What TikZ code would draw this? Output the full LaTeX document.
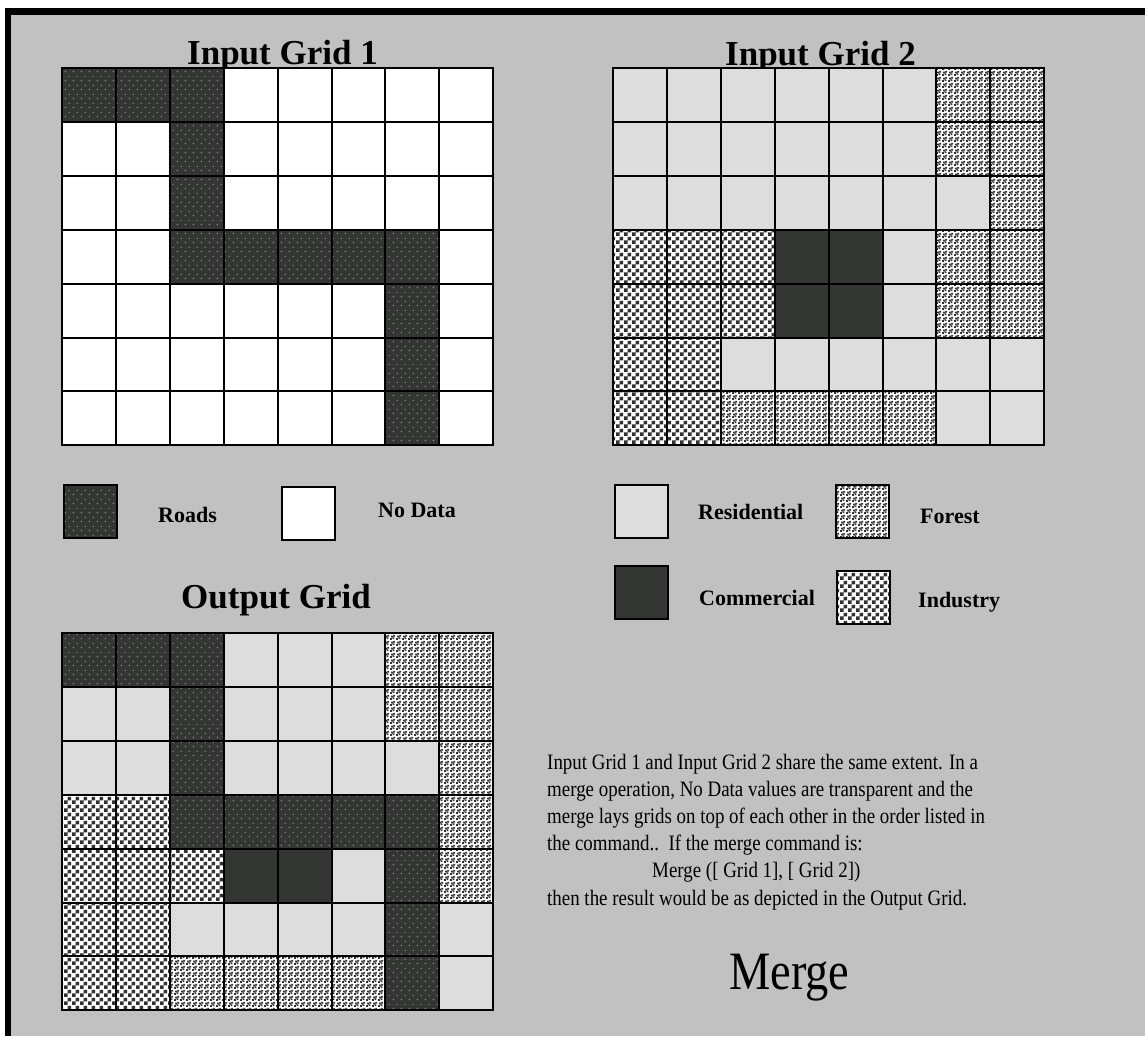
\documentclass[tikz,border=0pt]{standalone}
\usepackage{fontspec}
\setmainfont{Liberation Serif}
\newfontfamily\narrowserif[FakeStretch=0.86]{Liberation Serif}
\usetikzlibrary{patterns}

\definecolor{bggray}{RGB}{193,193,193}
\definecolor{resgray}{RGB}{221,221,221}
\definecolor{darkcell}{RGB}{52,54,52}
\definecolor{dotgray}{RGB}{150,150,150}
\definecolor{patdark}{RGB}{50,50,50}

\pgfdeclarepatternformonly{roaddots}{\pgfqpoint{0pt}{0pt}}{\pgfqpoint{8pt}{9pt}}{\pgfqpoint{8pt}{9pt}}{%
    \pgfpathrectangle{\pgfqpoint{1pt}{1pt}}{\pgfqpoint{1.2pt}{1.2pt}}%
    \pgfpathrectangle{\pgfqpoint{5pt}{5.5pt}}{\pgfqpoint{1.2pt}{1.2pt}}%
    \pgfusepath{fill}}
\pgfdeclarepatternformonly{forestdots}{\pgfqpoint{0pt}{0pt}}{\pgfqpoint{6pt}{6pt}}{\pgfqpoint{6pt}{6pt}}{%
    \pgfpathrectangle{\pgfqpoint{0pt}{0pt}}{\pgfqpoint{2.1pt}{2.1pt}}%
    \pgfpathrectangle{\pgfqpoint{3pt}{0.9pt}}{\pgfqpoint{2.1pt}{2.1pt}}%
    \pgfpathrectangle{\pgfqpoint{1.4pt}{3pt}}{\pgfqpoint{2.1pt}{2.1pt}}%
    \pgfpathrectangle{\pgfqpoint{3.9pt}{3.9pt}}{\pgfqpoint{2.1pt}{2.1pt}}%
    \pgfusepath{fill}}
\pgfdeclarepatternformonly{checks}{\pgfqpoint{0pt}{0pt}}{\pgfqpoint{8pt}{8pt}}{\pgfqpoint{8pt}{8pt}}{%
    \pgfpathrectangle{\pgfqpoint{0pt}{0pt}}{\pgfqpoint{4pt}{4pt}}%
    \pgfpathrectangle{\pgfqpoint{4pt}{4pt}}{\pgfqpoint{4pt}{4pt}}%
    \pgfusepath{fill}}

\begin{document}
\begin{tikzpicture}[x=1pt,y=-1pt,
    road/.style={fill=darkcell,postaction={pattern=roaddots,pattern color=dotgray}},
    nodata/.style={fill=white},
    resi/.style={fill=resgray},
    comm/.style={fill=darkcell},
    forest/.style={fill=white,postaction={pattern=forestdots,pattern color=patdark}},
    indus/.style={fill=white,postaction={pattern=checks,pattern color=patdark}},
    gridline/.style={line width=2pt,line cap=rect},
    keybox/.style={minimum size=53pt,inner sep=0pt,postaction={draw,line width=2pt}},
    gridtitle/.style={font=\fontsize{35}{40}\selectfont\bfseries,inner sep=0pt,anchor=base west},
    keylabel/.style={font=\fontsize{22}{26}\selectfont\bfseries,inner sep=0pt,anchor=base west}]
    \useasboundingbox (0,0) rectangle (1145,1036);
    \fill[white] (0,0) rectangle (1145,1036);
    \fill[bggray] (5,8) rectangle (1145,1036);
    \fill[black] (5,8) rectangle (1145,15);
    \fill[black] (5,8) rectangle (11,1036);

    \node[gridtitle] (title1) at (187,64) {Input Grid 1};
    \node[gridtitle] (title2) at (725,65) {Input Grid 2};
    \node[gridtitle] (title3) at (181,608) {Output Grid};

    \foreach \row [count=\j from 0] in {
        {road,road,road,nodata,nodata,nodata,nodata,nodata},
        {nodata,nodata,road,nodata,nodata,nodata,nodata,nodata},
        {nodata,nodata,road,nodata,nodata,nodata,nodata,nodata},
        {nodata,nodata,road,road,road,road,road,nodata},
        {nodata,nodata,nodata,nodata,nodata,nodata,road,nodata},
        {nodata,nodata,nodata,nodata,nodata,nodata,road,nodata},
        {nodata,nodata,nodata,nodata,nodata,nodata,road,nodata}}
        \foreach \s [count=\i from 0] in \row
            \path[\s] (62+\i*53.9,68+\j*53.9) rectangle ++(53.9,53.9);
    \foreach \i in {0,...,8}
        \draw[gridline] (62+\i*53.9,68) -- (62+\i*53.9,445.3);
    \foreach \j in {0,...,7}
        \draw[gridline] (62,68+\j*53.9) -- (493.2,68+\j*53.9);

    \foreach \row [count=\j from 0] in {
        {resi,resi,resi,resi,resi,resi,forest,forest},
        {resi,resi,resi,resi,resi,resi,forest,forest},
        {resi,resi,resi,resi,resi,resi,resi,forest},
        {indus,indus,indus,comm,comm,resi,forest,forest},
        {indus,indus,indus,comm,comm,resi,forest,forest},
        {indus,indus,resi,resi,resi,resi,resi,resi},
        {indus,indus,forest,forest,forest,forest,resi,resi}}
        \foreach \s [count=\i from 0] in \row
            \path[\s] (613+\i*53.9,68+\j*53.9) rectangle ++(53.9,53.9);
    \foreach \i in {0,...,8}
        \draw[gridline] (613+\i*53.9,68) -- (613+\i*53.9,445.3);
    \foreach \j in {0,...,7}
        \draw[gridline] (613,68+\j*53.9) -- (1044.2,68+\j*53.9);

    \foreach \row [count=\j from 0] in {
        {road,road,road,resi,resi,resi,forest,forest},
        {resi,resi,road,resi,resi,resi,forest,forest},
        {resi,resi,road,resi,resi,resi,resi,forest},
        {indus,indus,road,road,road,road,road,forest},
        {indus,indus,indus,comm,comm,resi,road,forest},
        {indus,indus,resi,resi,resi,resi,road,resi},
        {indus,indus,forest,forest,forest,forest,road,resi}}
        \foreach \s [count=\i from 0] in \row
            \path[\s] (62+\i*53.9,633+\j*53.9) rectangle ++(53.9,53.9);
    \foreach \i in {0,...,8}
        \draw[gridline] (62+\i*53.9,633) -- (62+\i*53.9,1010.3);
    \foreach \j in {0,...,7}
        \draw[gridline] (62,633+\j*53.9) -- (493.2,633+\j*53.9);

    \node[road,keybox] (roadkey) at (90,511.5) {};
    \node[keylabel] (roads) at (158,522) {Roads};
    \node[nodata,keybox] (nodatakey) at (308.5,513.5) {};
    \node[keylabel] (nodatalabel) at (378,517) {No Data};
    \node[resi,keybox] (resikey) at (641,511.5) {};
    \node[keylabel] (resilabel) at (698,519) {Residential};
    \node[forest,keybox] (forestkey) at (862.5,511) {};
    \node[keylabel] (forestlabel) at (920,523) {Forest};
    \node[comm,keybox] (commkey) at (641,592.5) {};
    \node[keylabel] (commlabel) at (699,605) {Commercial};
    \node[indus,keybox] (induskey) at (863,597.5) {};
    \node[keylabel] (induslabel) at (918,607) {Industry};

    \node[anchor=base west,inner sep=0pt,align=left,
        font=\narrowserif\fontsize{22}{27.2}\selectfont] (note) at (547,905)
        {Input Grid 1 and Input Grid 2 share the same extent. In a\\
        merge operation, No Data values are transparent and the\\
        merge lays grids on top of each other in the order listed in\\
        the command..\ \ If the merge command is:\\
        \hspace*{105pt}Merge ([ Grid 1], [ Grid 2])\\
        then the result would be as depicted in the Output Grid.};
    \node[anchor=base west,inner sep=0pt,
        font=\narrowserif\fontsize{54}{60}\selectfont] (merge) at (729,989) {Merge};
\end{tikzpicture}
\end{document}
